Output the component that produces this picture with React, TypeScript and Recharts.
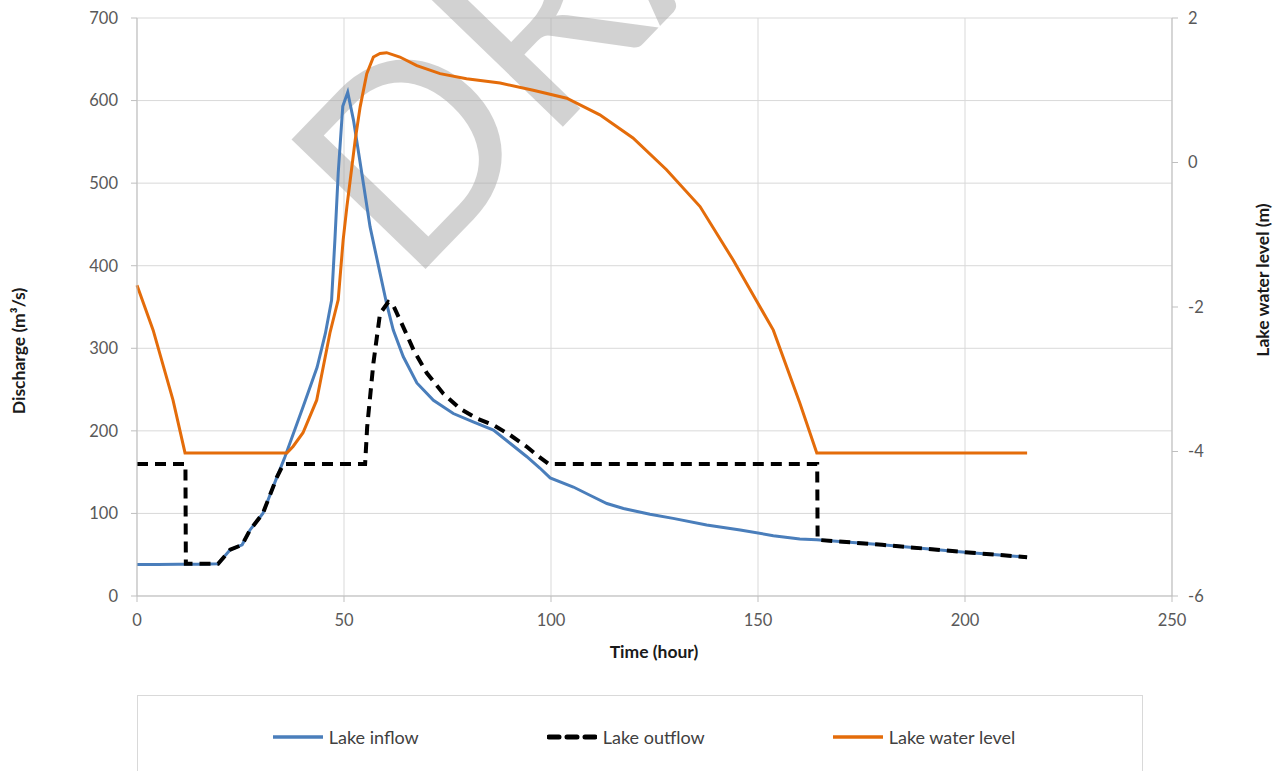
import { LineChart, Line, XAxis, YAxis, CartesianGrid, Legend } from "recharts";

const FONT = "Lato, 'Open Sans', sans-serif";

// time (hour) / discharge (m3/s)
const inflowT = [0, 5, 10, 15, 19.6, 22.5, 25.4, 27.3, 30.4, 33.8, 35.7, 40.1, 43.5, 45.5, 47.0, 47.8, 48.6, 49.7, 50.9, 52.3, 54.3, 56.3, 58.7, 60.3, 61.9, 64.3, 67.6, 71.6, 76.4, 81.2, 86.1, 90.1, 94.1, 97.3, 99.8, 105.4, 109.4, 113.5, 117.5, 123.9, 129.5, 137.6, 145.7, 153.7, 160.1, 164.2, 180, 200, 215];
const inflowQ = [38, 38, 38.5, 38.5, 39, 56, 62, 80, 100, 144, 168, 229, 277, 318, 358, 431, 512, 593, 610, 576, 512, 447, 391, 354, 322, 290, 258, 237, 221, 211, 201, 185, 169, 155, 143, 132, 122, 112, 106, 99, 94, 86, 80, 73, 69, 68, 62, 53, 47];

const outflowT = [0, 11.7, 11.8, 19.6, 22.5, 25.4, 27.3, 30.4, 33.8, 35.4, 55.1, 55.6, 57.1, 58.7, 60.7, 61.9, 64.3, 66.8, 70, 74, 78, 82.1, 86.1, 90.1, 94.1, 97, 99.4, 164.3, 164.4, 180, 200, 215];
const outflowQ = [160, 160, 39, 39, 56, 62, 80, 100, 144, 160, 160, 205, 282, 342, 356, 352, 326, 298, 270, 245, 227, 215, 207, 195, 181, 169, 160, 160, 68, 62, 53, 47];

// lake water level (m), right axis
const levelT = [0, 3.9, 8.7, 11.6, 36.2, 37.7, 40.1, 43.4, 46.6, 48.6, 49.8, 50.7, 51.4, 52.7, 53.9, 55.5, 57.1, 58.7, 60.3, 63.5, 67.6, 73.2, 79.6, 87.7, 95.7, 103.8, 111.8, 119.8, 127.9, 136, 144, 149.7, 153.7, 160.1, 164.2, 215];
const levelH = [-1.7, -2.32, -3.29, -4.02, -4.02, -3.93, -3.74, -3.29, -2.36, -1.9, -1.07, -0.61, -0.29, 0.31, 0.77, 1.23, 1.46, 1.51, 1.52, 1.46, 1.34, 1.23, 1.16, 1.1, 1.0, 0.89, 0.66, 0.34, -0.1, -0.61, -1.35, -1.92, -2.32, -3.33, -4.02, -4.02];

const timeTicks = [0, 50, 100, 150, 200, 250];
const dischargeTicks = [0, 100, 200, 300, 400, 500, 600, 700];
const levelTicks = [-6, -4, -2, 0, 2];

const toRows = (ts: number[], vs: number[]) => ts.map((t, i) => ({ t, v: vs[i] }));

const tickStyle = { fill: "#595959", fontSize: 16.5, fontFamily: FONT };
const titleStyle = { fill: "#1a1a1a", fontSize: 17.5, fontWeight: 700, fontFamily: FONT };

function LeftTitle() {
  return (
    <text x={18} y={351} transform="rotate(-90 18 351)" textAnchor="middle" dominantBaseline="central" style={titleStyle}>
      Discharge (m³/s)
    </text>
  );
}

function RightTitle() {
  return (
    <text x={1262} y={280} transform="rotate(-90 1262 280)" textAnchor="middle" dominantBaseline="central" style={titleStyle}>
      Lake water level (m)
    </text>
  );
}

function BottomTitle() {
  return (
    <text x={654} y={651} textAnchor="middle" dominantBaseline="central" style={titleStyle}>
      Time (hour)
    </text>
  );
}

function LegendBox(props: any) {
  const payload = props.payload || [];
  return (
    <div
      style={{
        width: 1006,
        height: 90,
        border: "1px solid #d9d9d9",
        boxSizing: "border-box",
        display: "flex",
        justifyContent: "center",
        alignItems: "flex-start",
        gap: 128,
        paddingTop: 30,
        paddingLeft: 8,
        fontFamily: FONT,
      }}
    >
      {payload.map((entry: any) => {
        const dashed = !!(entry.payload && entry.payload.strokeDasharray);
        return (
          <div key={entry.value} style={{ display: "flex", alignItems: "center", height: 22 }}>
            <svg width={50} height={10}>
              <line
                x1={dashed ? 2 : 0}
                y1={5}
                x2={dashed ? 48 : 50}
                y2={5}
                stroke={entry.color}
                strokeWidth={dashed ? 5 : 3.5}
                strokeDasharray={dashed ? "10 8" : undefined}
                strokeLinecap={dashed ? "round" : "butt"}
              />
            </svg>
            <span style={{ marginLeft: 6, fontSize: 18, color: "#404040" }}>{entry.value}</span>
          </div>
        );
      })}
    </div>
  );
}

export default function App() {
  return (
    <div style={{ position: "absolute", left: 0, top: 0, background: "#fff" }}>
      <LineChart width={1276} height={771} margin={{ top: 18, right: 44, bottom: 145, left: 57 }}>
        <CartesianGrid yAxisId="left" stroke="#d9d9d9" strokeWidth={1} />
        <XAxis
          dataKey="t"
          type="number"
          domain={[0, 250]}
          ticks={timeTicks}
          height={30}
          tick={tickStyle}
          tickSize={6}
          tickMargin={12}
          stroke="#bfbfbf"
          label={<BottomTitle />}
        />
        <YAxis
          yAxisId="left"
          domain={[0, 700]}
          ticks={dischargeTicks}
          width={80}
          tick={tickStyle}
          tickSize={6}
          tickMargin={13}
          stroke="#bfbfbf"
          label={<LeftTitle />}
        />
        <YAxis
          yAxisId="right"
          orientation="right"
          domain={[-6, 2]}
          ticks={levelTicks}
          width={60}
          tick={tickStyle}
          tickSize={6}
          tickMargin={10}
          stroke="#bfbfbf"
          label={<RightTitle />}
        />
        <Line
          yAxisId="left"
          data={toRows(inflowT, inflowQ)}
          dataKey="v"
          name="Lake inflow"
          type="linear"
          stroke="#4a7ebb"
          strokeWidth={3}
          dot={false}
          isAnimationActive={false}
        />
        <Line
          yAxisId="left"
          data={toRows(outflowT, outflowQ)}
          dataKey="v"
          name="Lake outflow"
          type="linear"
          stroke="#000000"
          strokeWidth={4}
          strokeDasharray="11 7"
          dot={false}
          isAnimationActive={false}
        />
        <Line
          yAxisId="right"
          data={toRows(levelT, levelH)}
          dataKey="v"
          name="Lake water level"
          type="linear"
          stroke="#e46c0a"
          strokeWidth={3}
          dot={false}
          isAnimationActive={false}
        />
        <Legend
          layout="horizontal"
          verticalAlign="middle"
          align="center"
          content={<LegendBox />}
          wrapperStyle={{ left: 137, top: 695, width: 1006, height: 90 }}
        />
        <text
          x={409}
          y={286}
          transform="rotate(-46 409 286)"
          fontSize={260}
          fontFamily={FONT}
          fill="#a6a6a6"
          fillOpacity={0.5}
        >
          DRAFT
        </text>
      </LineChart>
    </div>
  );
}
